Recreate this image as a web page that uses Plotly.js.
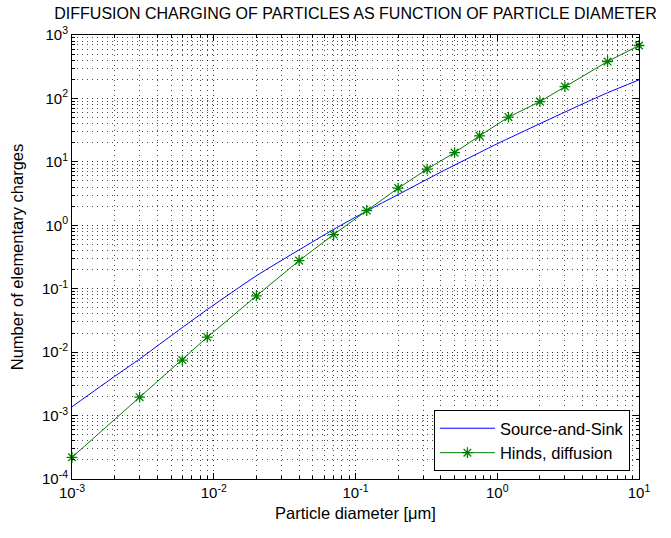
<!DOCTYPE html>
<html>
<head>
<meta charset="utf-8">
<script src="https://cdn.plot.ly/plotly-3.0.1.min.js"></script>
<style>html,body{margin:0;padding:0;background:#fff;}#chart{width:671px;height:538px;}</style>
</head>
<body>
<div id="chart"></div>
<script>
// Source-and-Sink model
const sinkDiameter = [0.001, 0.002, 0.003, 0.005, 0.009, 0.02, 0.04, 0.07, 0.12, 0.2, 0.4, 0.75, 1, 2, 4, 6, 10];
const sinkCharges  = [0.00138, 0.00415, 0.0078, 0.0181, 0.047, 0.16, 0.41, 0.86, 1.68, 3.05, 6.9, 14.0, 19.3, 40, 82, 123, 196];
// Hinds, diffusion
const hindsDiameter = [0.001, 0.003, 0.006, 0.009, 0.02, 0.04, 0.07, 0.12, 0.2, 0.32, 0.5, 0.75, 1.2, 2, 3, 6, 10];
const hindsCharges  = [0.00022, 0.00195, 0.0075, 0.0172, 0.077, 0.277, 0.714, 1.71, 3.85, 7.67, 14.0, 25.7, 50.7, 89, 154, 382, 683];

// Tick labels (decades)
const xTickExponents = [-3, -2, -1, 0, 1];
const xTickLabels = ['10<sup>-3</sup>', '10<sup>-2</sup>', '10<sup>-1</sup>', '10<sup>0</sup>', '10<sup>1</sup>'];
const yTickExponents = [-4, -3, -2, -1, 0, 1, 2, 3];
const yTickLabels = ['10<sup>-4</sup>', '10<sup>-3</sup>', '10<sup>-2</sup>', '10<sup>-1</sup>', '10<sup>0</sup>', '10<sup>1</sup>', '10<sup>2</sup>', '10<sup>3</sup>'];
const minorDigits = [2, 3, 4, 5, 6, 7, 8, 9];

const titleText = 'DIFFUSION CHARGING OF PARTICLES AS FUNCTION OF PARTICLE DIAMETER';
const xTitle = 'Particle diameter [μm]';
const yTitle = 'Number of elementary charges';
const seriesNames = ['Source-and-Sink', 'Hinds, diffusion'];

const font = 'Liberation Sans, Arial, sans-serif';

function minorVals(exps) {
  const out = [];
  exps.slice(0, -1).forEach(e => minorDigits.forEach(d => out.push(d * Math.pow(10, e))));
  return out;
}

const traces = [
  {x: sinkDiameter, y: sinkCharges, name: seriesNames[0], type: 'scatter', mode: 'lines',
   line: {color: '#0000ff', width: 1, shape: 'spline', smoothing: 0.6}, cliponaxis: false},
  {x: hindsDiameter, y: hindsCharges, name: seriesNames[1], type: 'scatter', mode: 'lines+markers',
   line: {color: '#008000', width: 1}, cliponaxis: false,
   marker: {symbol: 'asterisk-open', size: 9, color: '#008000', line: {color: '#008000', width: 1.3}}}
];

const gridDash = '1px,4px';
function axis(exps, labels, title, standoff) {
  return {
    type: 'log',
    range: [exps[0], exps[exps.length - 1]],
    showline: true, linecolor: '#000', linewidth: 1, mirror: 'ticks',
    ticks: 'inside', ticklen: 6, tickcolor: '#000',
    tickmode: 'array',
    tickvals: exps.map(e => Math.pow(10, e)),
    ticktext: labels,
    showgrid: true, gridcolor: 'rgba(0,0,0,0.8)', griddash: gridDash, gridwidth: 1,
    zeroline: false,
    tickfont: {family: font, size: 15, color: '#000'},
    minor: {tickmode: 'array', tickvals: minorVals(exps), ticks: 'inside', ticklen: 3, tickcolor: '#000',
            showgrid: true, gridcolor: 'rgba(0,0,0,0.7)', griddash: gridDash, gridwidth: 1},
    title: {text: title, font: {family: font, size: 16.5, color: '#000'}, standoff: standoff}
  };
}

const layout = {
  width: 671, height: 538,
  margin: {l: 72, r: 32, t: 35, b: 59},
  paper_bgcolor: '#fff', plot_bgcolor: '#fff',
  title: {text: titleText, font: {family: font, size: 16, color: '#000'},
          x: 0.5, xref: 'paper', xanchor: 'center', y: 0.975, yref: 'container', yanchor: 'middle'},
  xaxis: axis(xTickExponents, xTickLabels, xTitle, 7),
  yaxis: axis(yTickExponents, yTickLabels, yTitle, 14),
  showlegend: true,
  legend: {x: 0.984, y: 0.018, xanchor: 'right', yanchor: 'bottom',
    bgcolor: '#fff', bordercolor: '#000', borderwidth: 1, itemwidth: 55,
    font: {family: font, size: 16.5, color: '#000'}, tracegroupgap: 2}
};

Plotly.newPlot('chart', traces, layout, {displayModeBar: false, staticPlot: true});
</script>
</body>
</html>
